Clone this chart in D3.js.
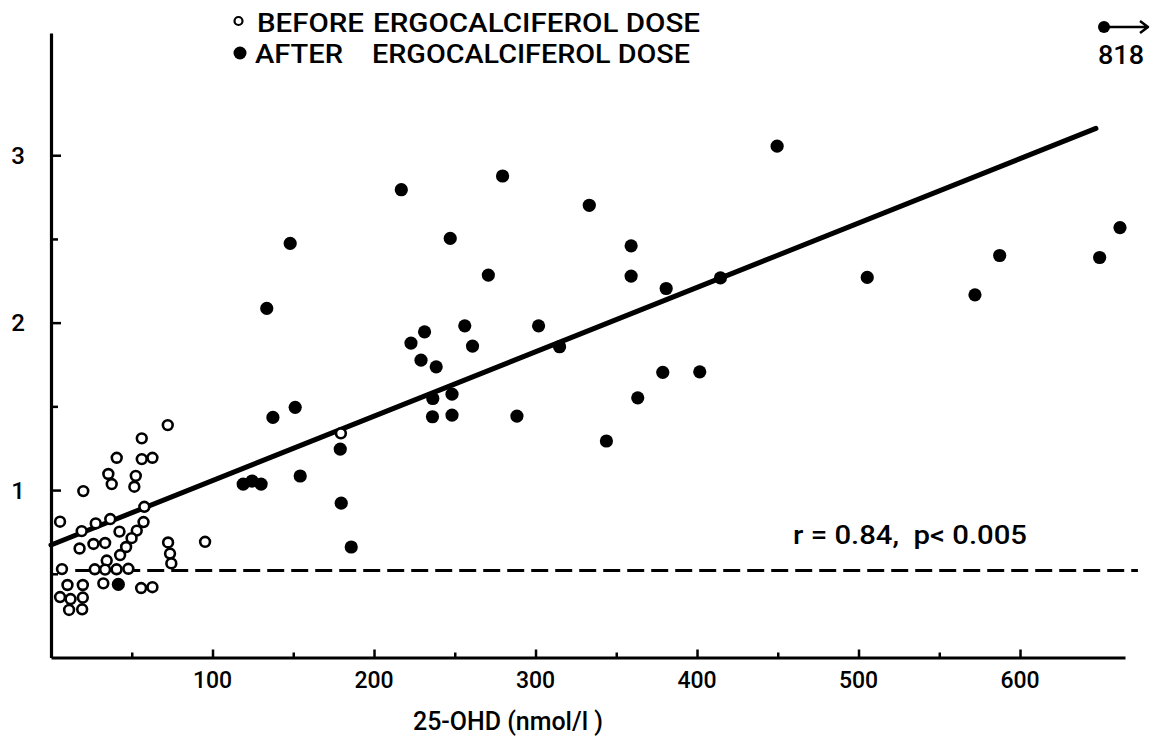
<!DOCTYPE html>
<html><head><meta charset="utf-8">
<script src="https://cdn.jsdelivr.net/npm/d3@7"></script>
<style>body{margin:0;background:#fff}svg text{font-family:Roboto,"Liberation Sans",Arial,sans-serif;font-weight:500;fill:#000}</style>
</head><body><svg id="c" width="1152" height="738"></svg>
<script>
// Before ergocalciferol dose (open circles)
const beforeX=[72.3,56.2,40.7,56.2,62.8,35.5,37.6,52.5,51.6,20.0,57.8,5.6,27.7,36.7,57.3,19.0,42.4,53.1,49.9,46.5,42.8,17.7,26.3,33.5,72.5,73.7,74.5,95.4,6.8,34.5,27.1,33.5,40.6,47.9,32.4,10.2,19.7,55.8,62.8,5.6,12.1,19.7,11.2,19.3,179.5];
const beforeY=[1.388,1.309,1.193,1.185,1.193,1.096,1.036,1.085,1.020,0.994,0.900,0.811,0.801,0.827,0.809,0.755,0.752,0.758,0.713,0.660,0.612,0.651,0.678,0.684,0.687,0.621,0.562,0.691,0.528,0.579,0.527,0.525,0.527,0.530,0.443,0.433,0.433,0.415,0.420,0.361,0.349,0.358,0.284,0.288,1.339];
// After ergocalciferol dose (filled circles)
const afterX=[119.0,124.5,130.1,154.3,179.1,179.7,185.9,41.7,137.4,151.2,133.6,148.1,216.9,279.6,247.2,270.8,333.3,359.2,359.2,380.9,414.5,449.6,505.4,587.4,572.1,649.3,661.9,231.3,222.9,256.2,261.0,229.1,238.5,236.4,248.3,236.2,248.3,301.9,314.9,288.5,343.9,363.3,378.8,401.7];
const afterY=[1.036,1.054,1.036,1.084,1.245,0.922,0.660,0.437,1.434,1.494,2.085,2.473,2.794,2.876,2.503,2.284,2.701,2.459,2.278,2.204,2.267,3.054,2.270,2.401,2.166,2.389,2.568,1.945,1.878,1.981,1.860,1.776,1.736,1.547,1.573,1.438,1.448,1.981,1.856,1.442,1.293,1.551,1.703,1.706];
// regression line end points, reference (dashed) level
const regX=[0,647];
const regY=[0.672,3.16];
const refX=[15,673];
const refLevel=0.52;
const xTicks=[100,200,300,400,500,600];
const xMinor=[50,150,250,350,450,550];
const yTicks=[1,2,3];
const yMinor=[0.5,1.5,2.5];
const legendLabels=["BEFORE","ERGOCALCIFEROL DOSE","AFTER","ERGOCALCIFEROL DOSE"];
const statText="r = 0.84,  p< 0.005";
const outlierLabel="818";
const xTitle="25-OHD (nmol/l )";

const svg=d3.select("#c");
const x=d3.scaleLinear().domain([0,665]).range([51,1125]);
const y=d3.scaleLinear().domain([0,3.73]).range([657.5,33]);

// axes
const gx=svg.append("g").attr("transform",`translate(0,${y(0)})`)
  .call(d3.axisBottom(x).tickValues(xTicks).tickSize(-8).tickSizeOuter(0).tickFormat(""));
gx.append("g").call(d3.axisBottom(x).tickValues(xMinor).tickSize(-5).tickSizeOuter(0).tickFormat(""))
  .select(".domain").remove();
const gy=svg.append("g").attr("transform",`translate(${x(0)},0)`)
  .call(d3.axisLeft(y).tickValues(yTicks).tickSize(-10).tickSizeOuter(0).tickFormat(""));
gy.append("g").call(d3.axisLeft(y).tickValues(yMinor).tickSize(-7).tickSizeOuter(0).tickFormat(""))
  .select(".domain").remove();
svg.selectAll(".domain").attr("stroke","#000").attr("stroke-width",3.2);
svg.selectAll(".tick line").attr("stroke","#000").attr("stroke-width",2.5);

svg.append("g").selectAll("text").data(xTicks).join("text")
  .attr("x",d=>x(d)).attr("y",688).attr("text-anchor","middle").attr("font-size",23).text(d=>d);
svg.append("g").selectAll("text").data(yTicks).join("text")
  .attr("x",18).attr("y",d=>y(d)+8.5).attr("text-anchor","middle").attr("font-size",24).text(d=>d);

svg.append("text").attr("x",413).attr("y",730).attr("font-size",26)
  .attr("textLength",190).attr("lengthAdjust","spacingAndGlyphs").text(xTitle);

// reference dashed line
svg.append("line").attr("x1",x(refX[0])).attr("x2",x(refX[1])).attr("y1",y(refLevel)).attr("y2",y(refLevel))
  .attr("stroke","#000").attr("stroke-width",3).attr("stroke-dasharray","17,7");

// regression line
svg.append("line").attr("x1",x(regX[0])).attr("x2",x(regX[1])).attr("y1",y(regY[0])).attr("y2",y(regY[1]))
  .attr("stroke","#000").attr("stroke-width",5).attr("stroke-linecap","round");

// points
svg.append("g").selectAll("circle").data(afterX.map((d,i)=>[d,afterY[i]])).join("circle")
  .attr("cx",d=>x(d[0])).attr("cy",d=>y(d[1])).attr("r",6.6).attr("fill","#000");
svg.append("g").selectAll("circle").data(beforeX.map((d,i)=>[d,beforeY[i]])).join("circle")
  .attr("cx",d=>x(d[0])).attr("cy",d=>y(d[1])).attr("r",4.9).attr("fill","#fff").attr("stroke","#000").attr("stroke-width",2.6);

// stat text
svg.append("text").attr("x",793).attr("y",544).attr("font-size",25)
  .attr("textLength",234).attr("lengthAdjust","spacingAndGlyphs").attr("xml:space","preserve").text(statText);

// legend
svg.append("circle").attr("cx",238.5).attr("cy",21).attr("r",4).attr("fill","#fff").attr("stroke","#000").attr("stroke-width",2.2);
svg.append("circle").attr("cx",240).attr("cy",53).attr("r",6.5).attr("fill","#000");
svg.append("text").attr("x",257).attr("y",32).attr("font-size",25).attr("textLength",107).attr("lengthAdjust","spacingAndGlyphs").text(legendLabels[0]);
svg.append("text").attr("x",373).attr("y",32).attr("font-size",25).attr("textLength",327).attr("lengthAdjust","spacingAndGlyphs").text(legendLabels[1]);
svg.append("text").attr("x",255).attr("y",63).attr("font-size",25).attr("textLength",88).attr("lengthAdjust","spacingAndGlyphs").text(legendLabels[2]);
svg.append("text").attr("x",372).attr("y",63).attr("font-size",25).attr("textLength",318).attr("lengthAdjust","spacingAndGlyphs").text(legendLabels[3]);

// off-scale outlier marker (818)
svg.append("circle").attr("cx",1104).attr("cy",27).attr("r",6).attr("fill","#000");
const p=d3.path(); p.moveTo(1104,27); p.lineTo(1148,27); p.moveTo(1140,21); p.lineTo(1148,27); p.lineTo(1140,33);
svg.append("path").attr("d",p.toString()).attr("fill","none").attr("stroke","#000").attr("stroke-width",2.5).attr("stroke-linejoin","round");
svg.append("text").attr("x",1121).attr("y",64).attr("text-anchor","middle").attr("font-size",25).attr("textLength",46).attr("lengthAdjust","spacingAndGlyphs").text(outlierLabel);
</script></body></html>
